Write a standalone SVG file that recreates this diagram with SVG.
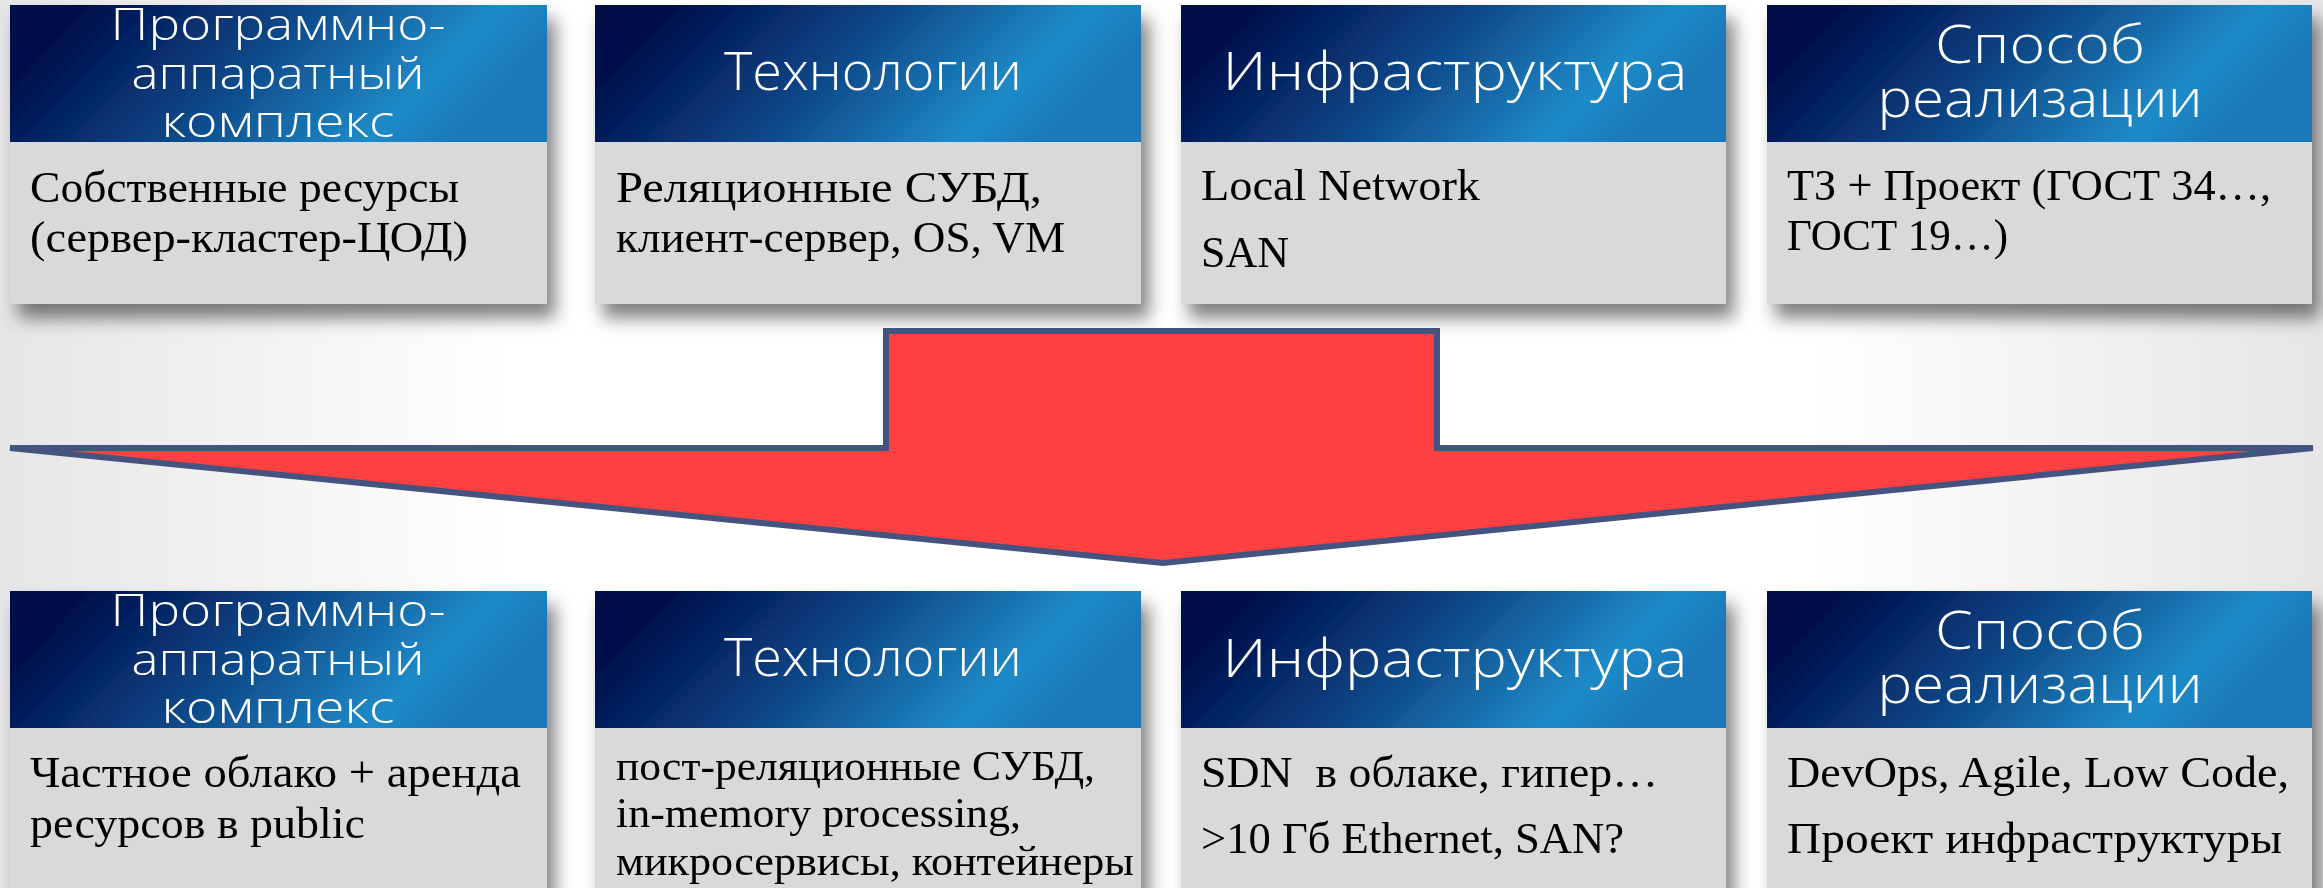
<svg xmlns="http://www.w3.org/2000/svg" width="2323" height="888" viewBox="0 0 2323 888">
<defs>
<linearGradient id="bg" x1="0" y1="0" x2="1" y2="0">
<stop offset="0" stop-color="#e6e6e6"/>
<stop offset="0.22" stop-color="#ffffff"/>
<stop offset="0.78" stop-color="#ffffff"/>
<stop offset="1" stop-color="#e6e6e6"/>
</linearGradient>
<linearGradient id="hdr" x1="0" y1="0" x2="1" y2="0.25">
<stop offset="0" stop-color="#000c45"/>
<stop offset="0.16" stop-color="#00124f"/>
<stop offset="0.5" stop-color="#0d4585"/>
<stop offset="0.86" stop-color="#1f8bc8"/>
<stop offset="1" stop-color="#1a79b9"/>
</linearGradient>
<filter id="sh" x="-10%" y="-10%" width="125%" height="135%">
<feDropShadow dx="8" dy="14" stdDeviation="9" flood-color="#000" flood-opacity="0.5"/>
</filter>
<style>
.hd{fill:url(#hdr)}
.bd{fill:#d9d9d9}
.ht{font-family:"Open Sans","Liberation Sans",sans-serif;font-weight:300;fill:#fff;text-anchor:middle}
.bt{font-family:"Liberation Serif","DejaVu Serif",serif;fill:#000;font-size:45px}
.bs{font-size:42px}
</style>
</defs>
<rect width="2323" height="888" fill="url(#bg)"/>

<g id="top1" filter="url(#sh)">
<rect class="hd" x="10" y="5" width="537" height="137"/>
<rect class="bd" x="10" y="142" width="537" height="162"/>
<text class="ht" font-size="45"><tspan x="278" y="40" textLength="335" lengthAdjust="spacingAndGlyphs">Программно-</tspan><tspan x="278" y="89" textLength="293" lengthAdjust="spacingAndGlyphs">аппаратный</tspan><tspan x="278" y="137" textLength="233" lengthAdjust="spacingAndGlyphs">комплекс</tspan></text>
<text class="bt"><tspan x="30" y="202" textLength="429" lengthAdjust="spacingAndGlyphs">Собственные ресурсы</tspan><tspan x="30" y="252" textLength="438" lengthAdjust="spacingAndGlyphs">(сервер-кластер-ЦОД)</tspan></text>
</g>

<g id="top2" filter="url(#sh)">
<rect class="hd" x="595" y="5" width="546" height="137"/>
<rect class="bd" x="595" y="142" width="546" height="162"/>
<text class="ht" font-size="53" x="873" y="90" textLength="298" lengthAdjust="spacingAndGlyphs">Технологии</text>
<text class="bt"><tspan x="616" y="202" textLength="426" lengthAdjust="spacingAndGlyphs">Реляционные СУБД,</tspan><tspan x="616" y="252" textLength="449" lengthAdjust="spacingAndGlyphs">клиент-сервер, OS, VM</tspan></text>
</g>

<g id="top3" filter="url(#sh)">
<rect class="hd" x="1181" y="5" width="545" height="137"/>
<rect class="bd" x="1181" y="142" width="545" height="162"/>
<text class="ht" font-size="53" x="1455" y="90" textLength="465" lengthAdjust="spacingAndGlyphs">Инфраструктура</text>
<text class="bt"><tspan x="1201" y="200" textLength="279" lengthAdjust="spacingAndGlyphs">Local Network</tspan><tspan x="1201" y="267" textLength="88" lengthAdjust="spacingAndGlyphs">SAN</tspan></text>
</g>

<g id="top4" filter="url(#sh)">
<rect class="hd" x="1767" y="5" width="545" height="137"/>
<rect class="bd" x="1767" y="142" width="545" height="162"/>
<text class="ht" font-size="53"><tspan x="2040" y="63" textLength="210" lengthAdjust="spacingAndGlyphs">Способ</tspan><tspan x="2040" y="117" textLength="325" lengthAdjust="spacingAndGlyphs">реализации</tspan></text>
<text class="bt"><tspan x="1787" y="200" textLength="484" lengthAdjust="spacingAndGlyphs">ТЗ + Проект (ГОСТ 34…,</tspan><tspan x="1787" y="250" textLength="221" lengthAdjust="spacingAndGlyphs">ГОСТ 19…)</tspan></text>
</g>

<g id="connectors">
<polygon id="arrow" points="886,331 1437,331 1437,448 2313,448 1163,563 10,448 886,448" fill="#fe4040" stroke="#44537f" stroke-width="6" stroke-linejoin="miter"/>
</g>

<g id="bot1" filter="url(#sh)">
<rect class="hd" x="10" y="591" width="537" height="137"/>
<rect class="bd" x="10" y="728" width="537" height="170"/>
<text class="ht" font-size="45"><tspan x="278" y="626" textLength="335" lengthAdjust="spacingAndGlyphs">Программно-</tspan><tspan x="278" y="675" textLength="293" lengthAdjust="spacingAndGlyphs">аппаратный</tspan><tspan x="278" y="723" textLength="233" lengthAdjust="spacingAndGlyphs">комплекс</tspan></text>
<text class="bt"><tspan x="30" y="787" textLength="491" lengthAdjust="spacingAndGlyphs">Частное облако + аренда</tspan><tspan x="30" y="838" textLength="335" lengthAdjust="spacingAndGlyphs">ресурсов в public</tspan></text>
</g>

<g id="bot2" filter="url(#sh)">
<rect class="hd" x="595" y="591" width="546" height="137"/>
<rect class="bd" x="595" y="728" width="546" height="170"/>
<text class="ht" font-size="53" x="873" y="676" textLength="298" lengthAdjust="spacingAndGlyphs">Технологии</text>
<text class="bt bs"><tspan x="616" y="780" textLength="479" lengthAdjust="spacingAndGlyphs">пост-реляционные СУБД,</tspan><tspan x="616" y="827" textLength="405" lengthAdjust="spacingAndGlyphs">in-memory processing,</tspan><tspan x="616" y="875" textLength="518" lengthAdjust="spacingAndGlyphs">микросервисы, контейнеры</tspan></text>
</g>

<g id="bot3" filter="url(#sh)">
<rect class="hd" x="1181" y="591" width="545" height="137"/>
<rect class="bd" x="1181" y="728" width="545" height="170"/>
<text class="ht" font-size="53" x="1455" y="677" textLength="465" lengthAdjust="spacingAndGlyphs">Инфраструктура</text>
<text class="bt" xml:space="preserve"><tspan x="1201" y="787" textLength="457" lengthAdjust="spacingAndGlyphs">SDN  в облаке, гипер…</tspan><tspan x="1201" y="853" textLength="423" lengthAdjust="spacingAndGlyphs">&gt;10 Гб Ethernet, SAN?</tspan></text>
</g>

<g id="bot4" filter="url(#sh)">
<rect class="hd" x="1767" y="591" width="545" height="137"/>
<rect class="bd" x="1767" y="728" width="545" height="170"/>
<text class="ht" font-size="53"><tspan x="2040" y="649" textLength="210" lengthAdjust="spacingAndGlyphs">Способ</tspan><tspan x="2040" y="703" textLength="325" lengthAdjust="spacingAndGlyphs">реализации</tspan></text>
<text class="bt"><tspan x="1787" y="787" textLength="502" lengthAdjust="spacingAndGlyphs">DevOps, Agile, Low Code,</tspan><tspan x="1787" y="853" textLength="495" lengthAdjust="spacingAndGlyphs">Проект инфраструктуры</tspan></text>
</g>
</svg>
